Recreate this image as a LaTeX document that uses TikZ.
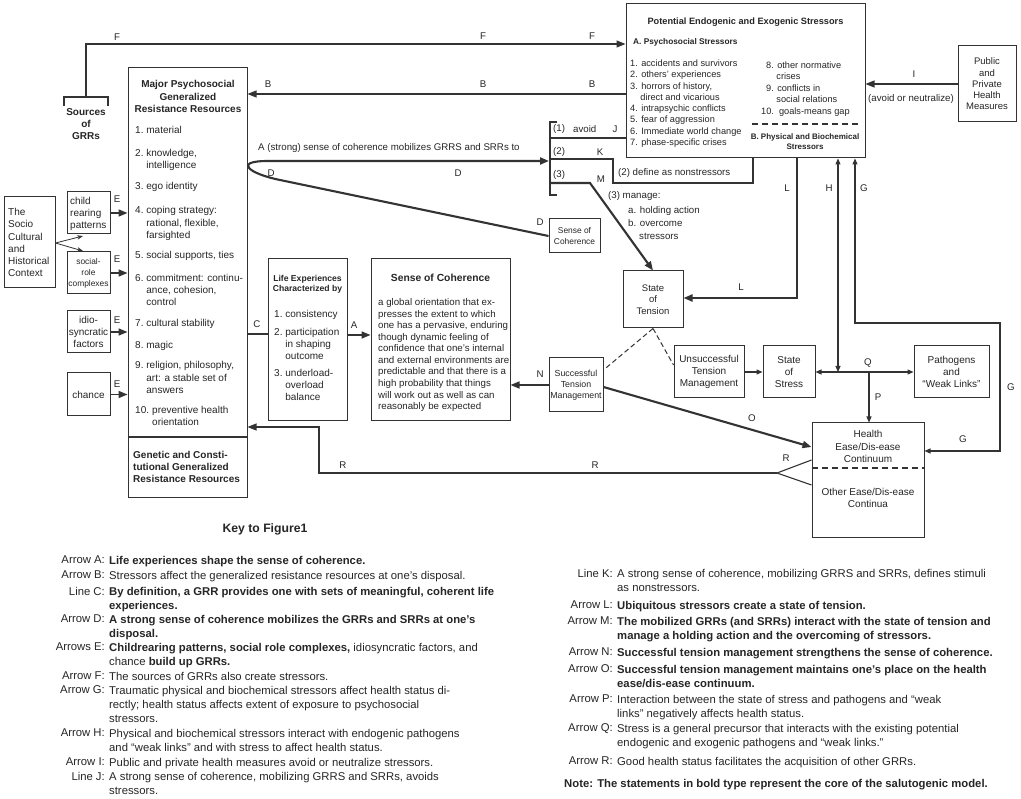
\documentclass[tikz,border=0pt]{standalone}
\usepackage{fontspec}
\setmainfont{Liberation Sans}
\usetikzlibrary{arrows.meta}
\definecolor{lc}{HTML}{333333}
\definecolor{tc}{HTML}{262626}
\newcommand{\dgL}{\fontsize{10}{12}\selectfont}
\newcommand{\dgM}{\fontsize{9.5}{11.3}\selectfont}
\newcommand{\dgS}{\fontsize{8.4}{11}\selectfont}
\newcommand{\dgSm}{\fontsize{8.8}{11}\selectfont}
\newcommand{\dgK}{\fontsize{11.3}{14.2}\selectfont}
\newcommand{\dgLab}{\fontsize{9.7}{11.5}\selectfont}
\begin{document}
\begin{tikzpicture}[x=1pt,y=-1pt,
  bx/.style={draw=lc,line width=1pt,inner sep=0pt,text=tc,align=center},
  t/.style={inner sep=0pt,text=tc},
  lab/.style={t,font=\dgLab},
  ln/.style={draw=lc,line width=1.1pt},
  med/.style={draw=lc,line width=1.6pt},
  thk/.style={draw=lc,line width=2.1pt},
  big/.style={-{Triangle[length=9pt,width=7pt]}},
  sml/.style={-{Triangle[length=6pt,width=5pt]}},
  dsml/.style={{Triangle[length=6pt,width=5pt]}-{Triangle[length=6pt,width=5pt]}},
  thinarr/.style={draw=lc,line width=0.8pt,-{Stealth[length=6pt,width=4.5pt]}},
  kl/.style={t,anchor=north east,font=\dgK},
  kt/.style={t,anchor=north west,align=left,font=\dgK}
]
\useasboundingbox (0,0) rectangle (1021,799);
\fill[white] (0,0) rectangle (1021,799);

% ---------- boxes ----------
\node[bx,minimum width=239pt,minimum height=154pt] (stress) at (745.5,81) {};
\node[bx,minimum width=58pt,minimum height=76pt,font=\dgM] (phm) at (987,84) {Public\\and\\Private\\Health\\Measures};
\node[bx,minimum width=119pt,minimum height=430pt] (major) at (187.5,283) {};
\node[bx,minimum width=51pt,minimum height=91pt] (socio) at (29.5,242.5) {};
\node[bx,minimum width=43pt,minimum height=42pt] (child) at (88.5,213) {};
\node[bx,minimum width=43pt,minimum height=42pt,font=\dgS] (social) at (88.5,273) {social-\\role\\complexes};
\node[bx,minimum width=43pt,minimum height=42pt,font=\dgL] (idio) at (88.5,332) {idio-\\syncratic\\factors};
\node[bx,minimum width=43pt,minimum height=43pt,font=\dgL] (chance) at (88.5,394.5) {chance};
\node[bx,minimum width=79pt,minimum height=162pt] (life) at (307.5,340) {};
\node[bx,minimum width=139pt,minimum height=162pt] (soc) at (440.5,340) {};
\node[bx,minimum width=54pt,minimum height=54pt,font=\dgSm] (stm) at (576,385) {Successful\\Tension\\Management};
\node[bx,minimum width=51pt,minimum height=34pt,font=\dgS] (socs) at (574.5,236) {Sense of\\Coherence};
\node[bx,minimum width=60pt,minimum height=57pt,font=\dgM] (sot) at (653,299.5) {State\\of\\Tension};
\node[bx,minimum width=70pt,minimum height=52pt,font=\dgL] (utm) at (709,372) {Unsuccessful\\Tension\\Management};
\node[bx,minimum width=52pt,minimum height=52pt,font=\dgL] (sos) at (789,372) {State\\of\\Stress};
\node[bx,minimum width=75pt,minimum height=52pt,font=\dgL] (path) at (951.5,372) {Pathogens\\and\\“Weak Links”};
\node[bx,minimum width=112pt,minimum height=115pt] (health) at (868,480.5) {};

% ---------- stressors box text ----------
\node[t,font=\bfseries\fontsize{9.2}{11}\selectfont] (stT) at (745.5,22) {Potential Endogenic and Exogenic Stressors};
\node[t,anchor=west,font=\bfseries\fontsize{8.3}{10}\selectfont] (stA) at (633,42) {A. Psychosocial Stressors};
\node[t,anchor=north west,align=left,font=\fontsize{9.2}{11.3}\selectfont] (stL) at (630,59.6) {1. accidents and survivors\\2. others’ experiences\\3. horrors of history,\\\hspace*{10.2pt}direct and vicarious\\4. intrapsychic conflicts\\5. fear of aggression\\6. Immediate world change\\7. phase-specific crises};
\node[t,anchor=north west,align=left,font=\fontsize{9.2}{11.3}\selectfont] (stR) at (766,61.6) {8. other normative\\\hspace*{10.2pt}crises\\9. conflicts in\\\hspace*{10.2pt}social relations};
\node[t,anchor=west,font=\fontsize{9.2}{11.3}\selectfont] (stR2) at (761,112) {10.\ \ goals-means gap};
\draw[lc,line width=1.4pt,dash pattern=on 6pt off 4pt] (752,124) -- (858,124);
\node[t,align=center,font=\bfseries\fontsize{8}{10}\selectfont] (stB) at (805,142) {B. Physical and Biochemical\\Stressors};

% ---------- major box text ----------
\node[t,align=center,font=\bfseries\fontsize{10}{12.5}\selectfont] (mjT) at (188,96.5) {Major Psychosocial\\Generalized\\Resistance Resources};
\node[t,anchor=north west,align=left,font=\dgL] (m1) at (135,126.3) {\makebox[11.2pt][l]{1.}material};
\node[t,anchor=north west,align=left,font=\dgL] (m2) at (135,149.3) {\makebox[11.2pt][l]{2.}knowledge,\\\hspace*{11.2pt}intelligence};
\node[t,anchor=north west,align=left,font=\dgL] (m3) at (135,182.3) {\makebox[11.2pt][l]{3.}ego identity};
\node[t,anchor=north west,align=left,font=\fontsize{10}{12.5}\selectfont] (m4) at (135,206.3) {\makebox[11.2pt][l]{4.}coping strategy:\\\hspace*{11.2pt}rational, flexible,\\\hspace*{11.2pt}farsighted};
\node[t,anchor=north west,align=left,font=\dgL] (m5) at (135,251.3) {\makebox[11.2pt][l]{5.}social supports, ties};
\node[t,anchor=north west,align=left,font=\dgL] (m6) at (135,274.3) {\makebox[11.2pt][l]{6.}commitment: continu-\\\hspace*{11.2pt}ance, cohesion,\\\hspace*{11.2pt}control};
\node[t,anchor=north west,align=left,font=\dgL] (m7) at (135,319.3) {\makebox[11.2pt][l]{7.}cultural stability};
\node[t,anchor=north west,align=left,font=\dgL] (m8) at (135,341.3) {\makebox[11.2pt][l]{8.}magic};
\node[t,anchor=north west,align=left,font=\fontsize{10}{12.4}\selectfont] (m9) at (135,361.3) {\makebox[11.2pt][l]{9.}religion, philosophy,\\\hspace*{11.2pt}art: a stable set of\\\hspace*{11.2pt}answers};
\node[t,anchor=north west,align=left,font=\dgL] (m10) at (135,406.3) {\makebox[17pt][l]{10.}preventive health\\\hspace*{17pt}orientation};
\draw[ln] (major.west |- 0,437) -- (major.east |- 0,437);
\node[t,anchor=north west,align=left,font=\bfseries\fontsize{10}{12}\selectfont] (mjG) at (133,451.3) {Genetic and Consti-\\tutional Generalized\\Resistance Resources};

% ---------- left side ----------
\node[t,anchor=north west,align=left,font=\fontsize{10}{12.2}\selectfont] (soT) at (8,208.3) {The\\Socio\\Cultural\\and\\Historical\\Context};
\node[t,anchor=north west,align=left,font=\dgL] (chT) at (70,197.3) {child\\rearing\\patterns};
\node[t,align=center,font=\bfseries\fontsize{10}{12}\selectfont] (src) at (86,124) {Sources\\of\\GRRs};
\draw[ln] (64,106) -- (64,97) -- (108,97) -- (108,106);
\coordinate (srcTop) at (86,97);

% ---------- life experiences ----------
\node[t,align=center,font=\bfseries\fontsize{8.6}{10.3}\selectfont] (lfT) at (307.5,284) {Life Experiences\\Characterized by};
\node[t,anchor=north west,align=left,font=\dgL] (l1) at (274,310.3) {\makebox[11.2pt][l]{1.}consistency};
\node[t,anchor=north west,align=left,font=\dgL] (l2) at (274,328.3) {\makebox[11.2pt][l]{2.}participation\\\hspace*{11.2pt}in shaping\\\hspace*{11.2pt}outcome};
\node[t,anchor=north west,align=left,font=\dgL] (l3) at (274,369.3) {\makebox[11.2pt][l]{3.}underload-\\\hspace*{11.2pt}overload\\\hspace*{11.2pt}balance};

% ---------- sense of coherence ----------
\node[t,font=\bfseries\fontsize{10.3}{12}\selectfont] (scT) at (440.5,278) {Sense of Coherence};
\node[t,anchor=north west,align=left,font=\fontsize{9.7}{11.56}\selectfont] (scD) at (378,298.4) {a global orientation that ex-\\presses the extent to which\\one has a pervasive, enduring\\though dynamic feeling of\\confidence that one’s internal\\and external environments are\\predictable and that there is a\\high probability that things\\will work out as well as can\\reasonably be expected};

% ---------- health ----------
\node[t,align=center,font=\fontsize{10}{12.3}\selectfont] (hT) at (868,446.5) {Health\\Ease/Dis-ease\\Continuum};
\draw[lc,line width=1.4pt,dash pattern=on 6pt off 4pt] (health.west |- 0,468) -- (health.east |- 0,468);
\node[t,align=center,font=\fontsize{10}{12}\selectfont] (hO) at (868,498) {Other Ease/Dis-ease\\Continua};

% ---------- connectors ----------
% F
\draw[ln,big] (srcTop) -- (86,44) -- (stress.west |- 0,44);
% B
\draw[ln,big] (stress.west |- 0,94) -- (major.east |- 0,94);
% I
\draw[ln,big] (phm.west) -- (stress.east |- phm.west);
% socio arrows
\coordinate (s1) at (83,236);
\coordinate (s2) at (83,251);
\draw[thinarr] (socio.east |- 0,243) -- (s1);
\draw[thinarr] (socio.east |- 0,243) -- (s2);
% E
\draw[med,big] (child.east) -- (child.east -| major.west);
\draw[med,big] (social.east) -- (social.east -| major.west);
\draw[med,big] (idio.east) -- (idio.east -| major.west);
\draw[med,big] (chance.east) -- (chance.east -| major.west);
% C, A, N
\draw[med] (major.east |- 0,334) -- (life.west |- 0,334);
\draw[med,big] (life.east |- 0,335) -- (soc.west |- 0,335);
\draw[med,big] (stm.west) -- (soc.east |- stm.west);
% D
\coordinate (brk) at (549,161);
\draw[thk,big] (socs.west) -- (280,180) .. controls (250,174) and (232,161) .. (268,161) -- (brk);
% bracket
\draw[ln] (557,122) -- (550,122) -- (550,195) -- (557,195);
% J
\draw[ln] (550,138) -- (stress.west |- 0,138);
% K
\draw[ln] (550,159) -- (613,159) -- (613,183) -- (753,183) -- (stress.south -| 753,0);
% M
\draw[thk,big] (550,183) -- (590,183) -- (sot.north);
% L
\draw[thk,big] (stress.south -| 797,0) -- (797,298) -- (sot.east |- 0,298);
% H
\draw[ln,dsml] (838,372) -- (stress.south -| 838,0);
% G
\draw[ln,dsml] (stress.south -| 855,0) -- (855,323) -- (1000,323) -- (1000,451) -- (health.east |- 0,451);
% UTM -> SOS
\draw[ln,sml] (utm.east) -- (sos.west);
% Q
\draw[ln,dsml] (sos.east) -- (path.west);
% P
\draw[ln,sml] (869,372) -- (health.north -| 869,0);
% O
\draw[thk,big] (stm.east |- 0,387) -- (health.west |- 0,447);
% dashed from state of tension
\draw[lc,line width=1pt,dash pattern=on 5pt off 3pt] (sot.south) -- (stm.east |- 0,370);
\draw[lc,line width=1pt,dash pattern=on 5pt off 3pt] (sot.south) -- (utm.west |- 0,365);
% R
\coordinate (rP) at (777,473);
\draw[ln] (health.west |- 0,460) -- (rP) -- (health.west |- 0,485);
\draw[ln,big] (rP) -- (319,473) -- (319,427) -- (major.east |- 0,427);

% ---------- connector labels ----------
\node[lab] (lF1) at (117,37) {F};
\node[lab] (lF2) at (483,36) {F};
\node[lab] (lF3) at (592,36) {F};
\node[lab] (lB1) at (268,84) {B};
\node[lab] (lB2) at (483,84) {B};
\node[lab] (lB3) at (592,84) {B};
\node[lab] (lI) at (914,74) {I};
\node[lab] (lIa) at (911,99) {(avoid or neutralize)};
\node[lab] (lE1) at (117,199) {E};
\node[lab] (lE2) at (117,259) {E};
\node[lab] (lE3) at (117,320) {E};
\node[lab] (lE4) at (117,384) {E};
\node[lab] (lC) at (257,324) {C};
\node[lab] (lA) at (354,325) {A};
\node[lab] (lN) at (540,374) {N};
\node[lab] (lD1) at (271,173) {D};
\node[lab] (lD2) at (458,173) {D};
\node[lab] (lD3) at (540,222) {D};
\node[lab,anchor=west] (aLab) at (258,148) {A (strong) sense of coherence mobilizes GRRS and SRRs to};
\node[lab,anchor=west] (b1) at (553,129) {(1)};
\node[lab,anchor=west] (b1a) at (573,129) {avoid};
\node[lab] (lJ) at (615,129) {J};
\node[lab,anchor=west] (b2) at (553,152) {(2)};
\node[lab] (lK) at (600,152) {K};
\node[lab,anchor=west] (b3) at (553,175) {(3)};
\node[lab] (lM) at (601,179) {M};
\node[lab,anchor=west] (def) at (618,173) {(2) define as nonstressors};
\node[lab,anchor=west] (mg) at (608,196) {(3) manage:};
\node[t,anchor=north west,align=left,font=\fontsize{9.7}{13}\selectfont] (mga) at (628,206.5) {a. holding action\\b. overcome\\\hspace*{11pt}stressors};
\node[lab] (lL1) at (787,188) {L};
\node[lab] (lL2) at (741,287) {L};
\node[lab] (lH) at (829,188) {H};
\node[lab] (lG1) at (864,188) {G};
\node[lab] (lG2) at (1011,387) {G};
\node[lab] (lG3) at (963,439) {G};
\node[lab] (lQ) at (868,363) {Q};
\node[lab] (lP) at (878,397) {P};
\node[lab] (lO) at (752,418) {O};
\node[lab] (lR1) at (343,465) {R};
\node[lab] (lR2) at (595,465) {R};
\node[lab] (lR3) at (786,458) {R};

% ---------- key ----------
\node[t,font=\bfseries\fontsize{12.2}{14}\selectfont] (ktitle) at (265,529) {Key to Figure1};

\node[kl] (kAl) at (105,555.8) {Arrow A:};
\node[kt] (kA) at (109,555.8) {\textbf{Life experiences shape the sense of coherence.}};
\node[kl] (kBl) at (105,570.8) {Arrow B:};
\node[kt] (kB) at (109,570.8) {Stressors affect the generalized resistance resources at one’s disposal.};
\node[kl] (kCl) at (105,586.8) {Line C:};
\node[kt] (kC) at (109,586.8) {\textbf{By definition, a GRR provides one with sets of meaningful, coherent life}\\\textbf{experiences.}};
\node[kl] (kDl) at (105,614.8) {Arrow D:};
\node[kt] (kD) at (109,614.8) {\textbf{A strong sense of coherence mobilizes the GRRs and SRRs at one’s}\\\textbf{disposal.}};
\node[kl] (kEl) at (105,642.8) {Arrows E:};
\node[kt] (kE) at (109,642.8) {\textbf{Childrearing patterns, social role complexes,} idiosyncratic factors, and\\chance \textbf{build up GRRs.}};
\node[kl] (kFl) at (105,671.8) {Arrow F:};
\node[kt] (kF) at (109,671.8) {The sources of GRRs also create stressors.};
\node[kl] (kGl) at (105,685.8) {Arrow G:};
\node[kt] (kG) at (109,685.8) {Traumatic physical and biochemical stressors affect health status di-\\rectly; health status affects extent of exposure to psychosocial\\stressors.};
\node[kl] (kHl) at (105,728.8) {Arrow H:};
\node[kt] (kH) at (109,728.8) {Physical and biochemical stressors interact with endogenic pathogens\\and “weak links” and with stress to affect health status.};
\node[kl] (kIl) at (105,757.8) {Arrow I:};
\node[kt] (kI) at (109,757.8) {Public and private health measures avoid or neutralize stressors.};
\node[kl] (kJl) at (105,771.8) {Line J:};
\node[kt] (kJ) at (109,771.8) {A strong sense of coherence, mobilizing GRRS and SRRs, avoids\\stressors.};

\node[kl] (kKl) at (613,568.8) {Line K:};
\node[kt] (kK) at (617,568.8) {A strong sense of coherence, mobilizing GRRS and SRRs, defines stimuli\\as nonstressors.};
\node[kl] (kLl) at (613,600.8) {Arrow L:};
\node[kt] (kL) at (617,600.8) {\textbf{Ubiquitous stressors create a state of tension.}};
\node[kl] (kMl) at (613,616.8) {Arrow M:};
\node[kt] (kM) at (617,616.8) {\textbf{The mobilized GRRs (and SRRs) interact with the state of tension and}\\\textbf{manage a holding action and the overcoming of stressors.}};
\node[kl] (kNl) at (613,647.8) {Arrow N:};
\node[kt] (kN) at (617,647.8) {\textbf{Successful tension management strengthens the sense of coherence.}};
\node[kl] (kOl) at (613,664.8) {Arrow O:};
\node[kt] (kO) at (617,664.8) {\textbf{Successful tension management maintains one’s place on the health}\\\textbf{ease/dis-ease continuum.}};
\node[kl] (kPl) at (613,694.8) {Arrow P:};
\node[kt] (kP) at (617,694.8) {Interaction between the state of stress and pathogens and “weak\\links” negatively affects health status.};
\node[kl] (kQl) at (613,723.8) {Arrow Q:};
\node[kt] (kQ) at (617,723.8) {Stress is a general precursor that interacts with the existing potential\\endogenic and exogenic pathogens and “weak links.”};
\node[kl] (kRl) at (613,756.8) {Arrow R:};
\node[kt] (kR) at (617,756.8) {Good health status facilitates the acquisition of other GRRs.};
\node[kt] (kNote) at (564,778.8) {\textbf{Note: The statements in bold type represent the core of the salutogenic model.}};
\end{tikzpicture}
\end{document}
